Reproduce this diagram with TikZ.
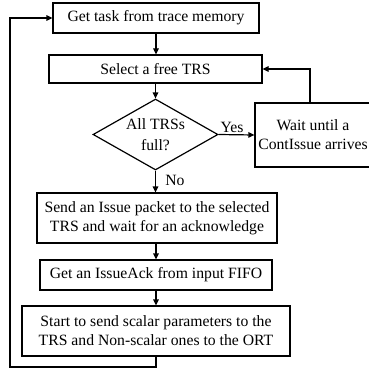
\documentclass[tikz,border=0pt]{standalone}
\usepackage{fontspec}
\setmainfont{Liberation Serif}
\usetikzlibrary{shapes.geometric,arrows.meta}
\begin{document}
\begin{tikzpicture}[x=1pt,y=-1pt,
  every node/.style={font=\fontsize{15.7}{19}\selectfont},
  stepbox/.style={draw,line width=1.2pt,inner sep=0pt,align=center},
  decision/.style={draw,line width=1.2pt,diamond,aspect=1.76,inner sep=0pt,
    align=center,minimum width=125pt,minimum height=71pt},
  flow/.style={line width=1.2pt,-{Triangle[length=6pt,width=5.5pt]}},
  lbl/.style={inner sep=0pt}]
\useasboundingbox (0,0) rectangle (368,369);

% process steps
\node[stepbox,minimum width=206pt,minimum height=30pt] (get) at (156,18)
  {Get task from trace memory};
\node[stepbox,minimum width=213pt,minimum height=28pt] (sel) at (155.5,69)
  {Select a free TRS};
\node[decision] (full) at (155.5,134.5) {All TRSs\\[2pt]full?};
\node[stepbox,minimum width=116pt,minimum height=64pt] (wait) at (313,135)
  {Wait until a\\ContIssue arrives};
\node[stepbox,minimum width=240pt,minimum height=50pt] (send) at (157,218)
  {Send an Issue packet to the selected\\TRS and wait for an acknowledge};
\node[stepbox,minimum width=232pt,minimum height=30pt] (ack) at (156,275)
  {Get an IssueAck from input FIFO};
\node[stepbox,minimum width=268pt,minimum height=50pt] (start) at (156,331)
  {Start to send scalar parameters to the\\TRS and Non-scalar ones to the ORT};

% branch labels
\node[lbl] (yes) at (232,127) {Yes};
\node[lbl] (no) at (175,180) {No};

% return path of the outer loop
\coordinate (loop) at (10,367);

% connectors
\draw[flow] (get.south) -- (get.south |- sel.north);
\draw[flow] (sel.south) -- (full.north);
\draw[flow] (full.east) -- (wait.west);
\draw[flow] ([xshift=-3pt]wait.north) |- (sel.east);
\draw[flow] (full.south) -- (full.south |- send.north);
\draw[flow] (send.south -| ack.north) -- (ack.north);
\draw[flow] (ack.south) -- (start.north);
\draw[flow] (start.south) |- (loop) |- (get.west);
\end{tikzpicture}
\end{document}
